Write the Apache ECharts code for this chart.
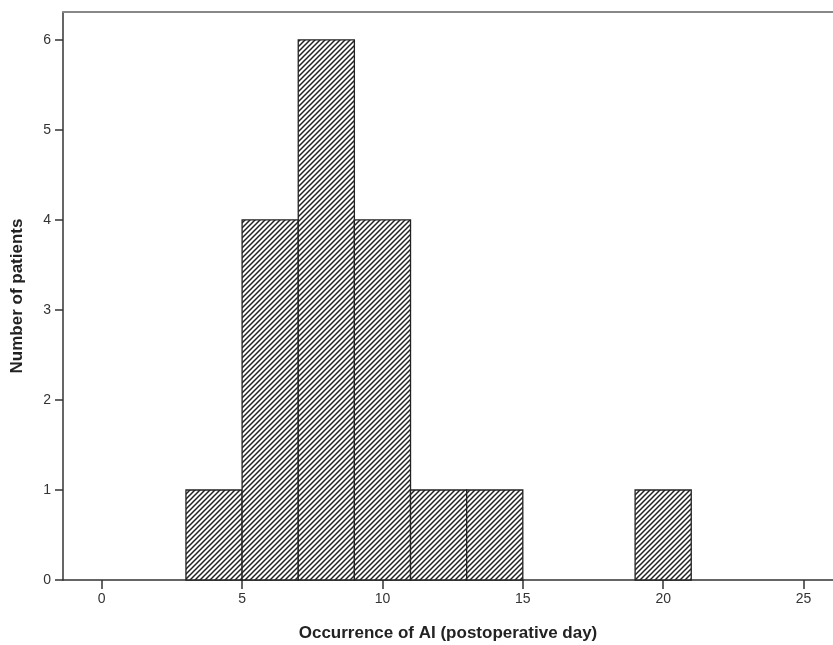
<!DOCTYPE html>
<html>
<head>
<meta charset="utf-8">
<script src="https://cdn.jsdelivr.net/npm/echarts@6/dist/echarts.min.js"></script>
<style>
  html, body { margin: 0; padding: 0; background: #fff; }
  #main { width: 833px; height: 645px; }
</style>
</head>
<body>
<div id="main"></div>
<script>
var binStart = [3, 5, 7, 9, 11, 13, 19];
var binEnd = [5, 7, 9, 11, 13, 15, 21];
var counts = [1, 4, 6, 4, 1, 1, 1];
var xTicks = [0, 5, 10, 15, 20, 25];
var yTicks = [0, 1, 2, 3, 4, 5, 6];

// hatch pattern "/" lines
var tile = document.createElement('canvas');
tile.width = 5; tile.height = 5;
var c = tile.getContext('2d');
c.fillStyle = '#fff';
c.fillRect(0, 0, 5, 5);
c.strokeStyle = '#222';
c.lineWidth = 1.5;
c.beginPath();
c.moveTo(-1, 6); c.lineTo(6, -1);
c.moveTo(-1, 1); c.lineTo(1, -1);
c.moveTo(4, 6); c.lineTo(6, 4);
c.stroke();

var rows = binStart.map(function (s, i) { return [s, binEnd[i], counts[i]]; });

var myChart = echarts.init(document.getElementById('main'));
var option = {
    backgroundColor: '#fff',
    animation: false,
    grid: { left: 63, top: 12, right: 0, bottom: 65, outerBoundsMode: 'none', containLabel: false },
    xAxis: [{
        type: 'value',
        min: -1.38, max: 26.05,
        interval: 5,
        name: 'Occurrence of AI (postoperative day)',
        nameLocation: 'middle',
        nameGap: 45,
        nameTextStyle: { fontFamily: 'Liberation Sans', fontWeight: 'bold', fontSize: 17, color: '#222' },
        splitLine: { show: false },
        axisLine: { onZero: false, lineStyle: { color: '#333', width: 1.5 } },
        axisTick: { length: 9, lineStyle: { color: '#333', width: 1.5 }, customValues: xTicks },
        axisLabel: { color: '#333', fontSize: 14, fontFamily: 'Liberation Sans', margin: 12, customValues: xTicks }
    }, {
        type: 'value',
        position: 'top',
        min: -1.38, max: 26.05,
        splitLine: { show: false },
        axisLine: { show: true, onZero: false, lineStyle: { color: '#888', width: 2 } },
        axisTick: { show: false },
        axisLabel: { show: false }
    }],
    yAxis: {
        type: 'value',
        min: 0, max: 6.31,
        interval: 1,
        name: 'Number of patients',
        nameLocation: 'middle',
        nameGap: 37,
        nameTextStyle: { fontFamily: 'Liberation Sans', fontWeight: 'bold', fontSize: 17, color: '#222' },
        splitLine: { show: false },
        axisLine: { show: true, onZero: false, lineStyle: { color: '#333', width: 1.5 } },
        axisTick: { show: true, length: 8, lineStyle: { color: '#333', width: 1.5 }, customValues: yTicks },
        axisLabel: { color: '#333', fontSize: 14, fontFamily: 'Liberation Sans', margin: 12, customValues: yTicks }
    },
    series: [{
        type: 'custom',
        data: rows,
        renderItem: function (params, api) {
            var p0 = api.coord([api.value(0), 0]);
            var p1 = api.coord([api.value(1), api.value(2)]);
            return {
                type: 'rect',
                shape: { x: p0[0], y: p1[1], width: p1[0] - p0[0], height: p0[1] - p1[1] },
                style: { fill: { image: tile, repeat: 'repeat' }, stroke: '#222', lineWidth: 1.3 }
            };
        }
    }]
};
myChart.setOption(option);
</script>
</body>
</html>
